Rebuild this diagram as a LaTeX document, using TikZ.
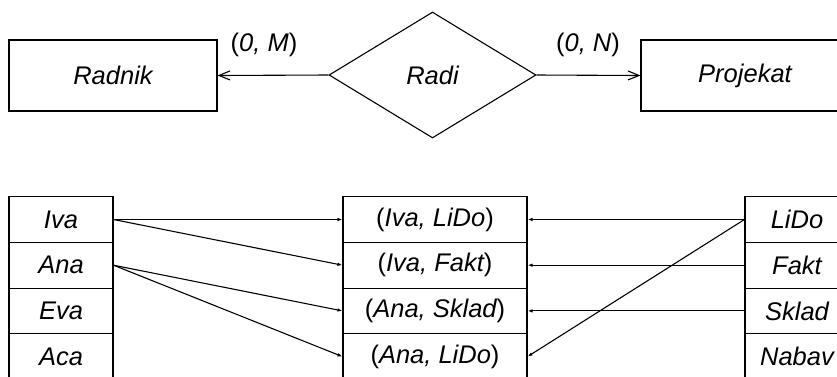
\documentclass[tikz,border=0pt]{standalone}
\usepackage{fontspec}
\setmainfont{Liberation Sans}
\usetikzlibrary{shapes.geometric,arrows.meta}
\tikzset{
	entitet/.style={draw, rectangle, minimum width=208pt, minimum height=71pt, inner sep=0pt},
	veza/.style={draw, diamond, minimum width=207pt, minimum height=126pt, inner sep=0pt},
	celija/.style={draw, rectangle, minimum height=45.7pt, inner sep=0pt},
	strelica/.style={-{Straight Barb[length=11pt,width=9pt]}},
	pridruzi/.style={-{Latex[length=5pt,width=3.5pt]}}
}
\begin{document}
\begin{tikzpicture}[x=1pt, y=1pt, line width=1.1pt, font=\fontsize{25.5}{30}\selectfont\itshape]
	\useasboundingbox (0,0) rectangle (837,-376);
	% ER dijagram
	\node[entitet] (radnik) at (113,-75.5) {Radnik};
	\node[veza] (radi) at (432.5,-75) {Radi};
	\node[entitet] (projekat) at (745,-75.5) {Projekat};
	\draw[strelica] (radi.west) -- (radnik.east);
	\draw[strelica] (radi.east) -- (projekat.west);
	\node (kardM) at (264,-45) {\upshape(\itshape 0, M\upshape)};
	\node (kardN) at (588,-45) {\upshape(\itshape 0, N\upshape)};
	
	% radnici
	\node[celija, minimum width=104pt] (iva) at (61,-219.5) {Iva};
	\node[celija, minimum width=104pt] (ana) at (61,-265.2) {Ana};
	\node[celija, minimum width=104pt] (eva) at (61,-310.9) {Eva};
	\node[celija, minimum width=104pt] (aca) at (61,-356.6) {Aca};
	
	% parovi
	\node[celija, minimum width=184pt] (p1) at (435,-219.5) {\upshape(\itshape Iva, LiDo\upshape)};
	\node[celija, minimum width=184pt] (p2) at (435,-265.2) {\upshape(\itshape Iva, Fakt\upshape)};
	\node[celija, minimum width=184pt] (p3) at (435,-310.9) {\upshape(\itshape Ana, Sklad\upshape)};
	\node[celija, minimum width=184pt] (p4) at (435,-356.6) {\upshape(\itshape Ana, LiDo\upshape)};
	
	% projekti
	\node[celija, minimum width=104pt] (lido) at (797,-219.5) {LiDo};
	\node[celija, minimum width=104pt] (fakt) at (797,-265.2) {Fakt};
	\node[celija, minimum width=104pt] (sklad) at (797,-310.9) {Sklad};
	\node[celija, minimum width=104pt] (nabav) at (797,-356.6) {Nabav};
	
	\draw[pridruzi] (iva.east) -- (p1.west);
	\draw[pridruzi] (iva.east) -- (p2.west);
	\draw[pridruzi] (ana.east) -- (p3.west);
	\draw[pridruzi] (ana.east) -- (p4.west);
	\draw[pridruzi] (lido.west) -- (p1.east);
	\draw[pridruzi] (fakt.west) -- (p2.east);
	\draw[pridruzi] (sklad.west) -- (p3.east);
	\draw[pridruzi] (lido.west) -- (p4.east);
\end{tikzpicture}
\end{document}
